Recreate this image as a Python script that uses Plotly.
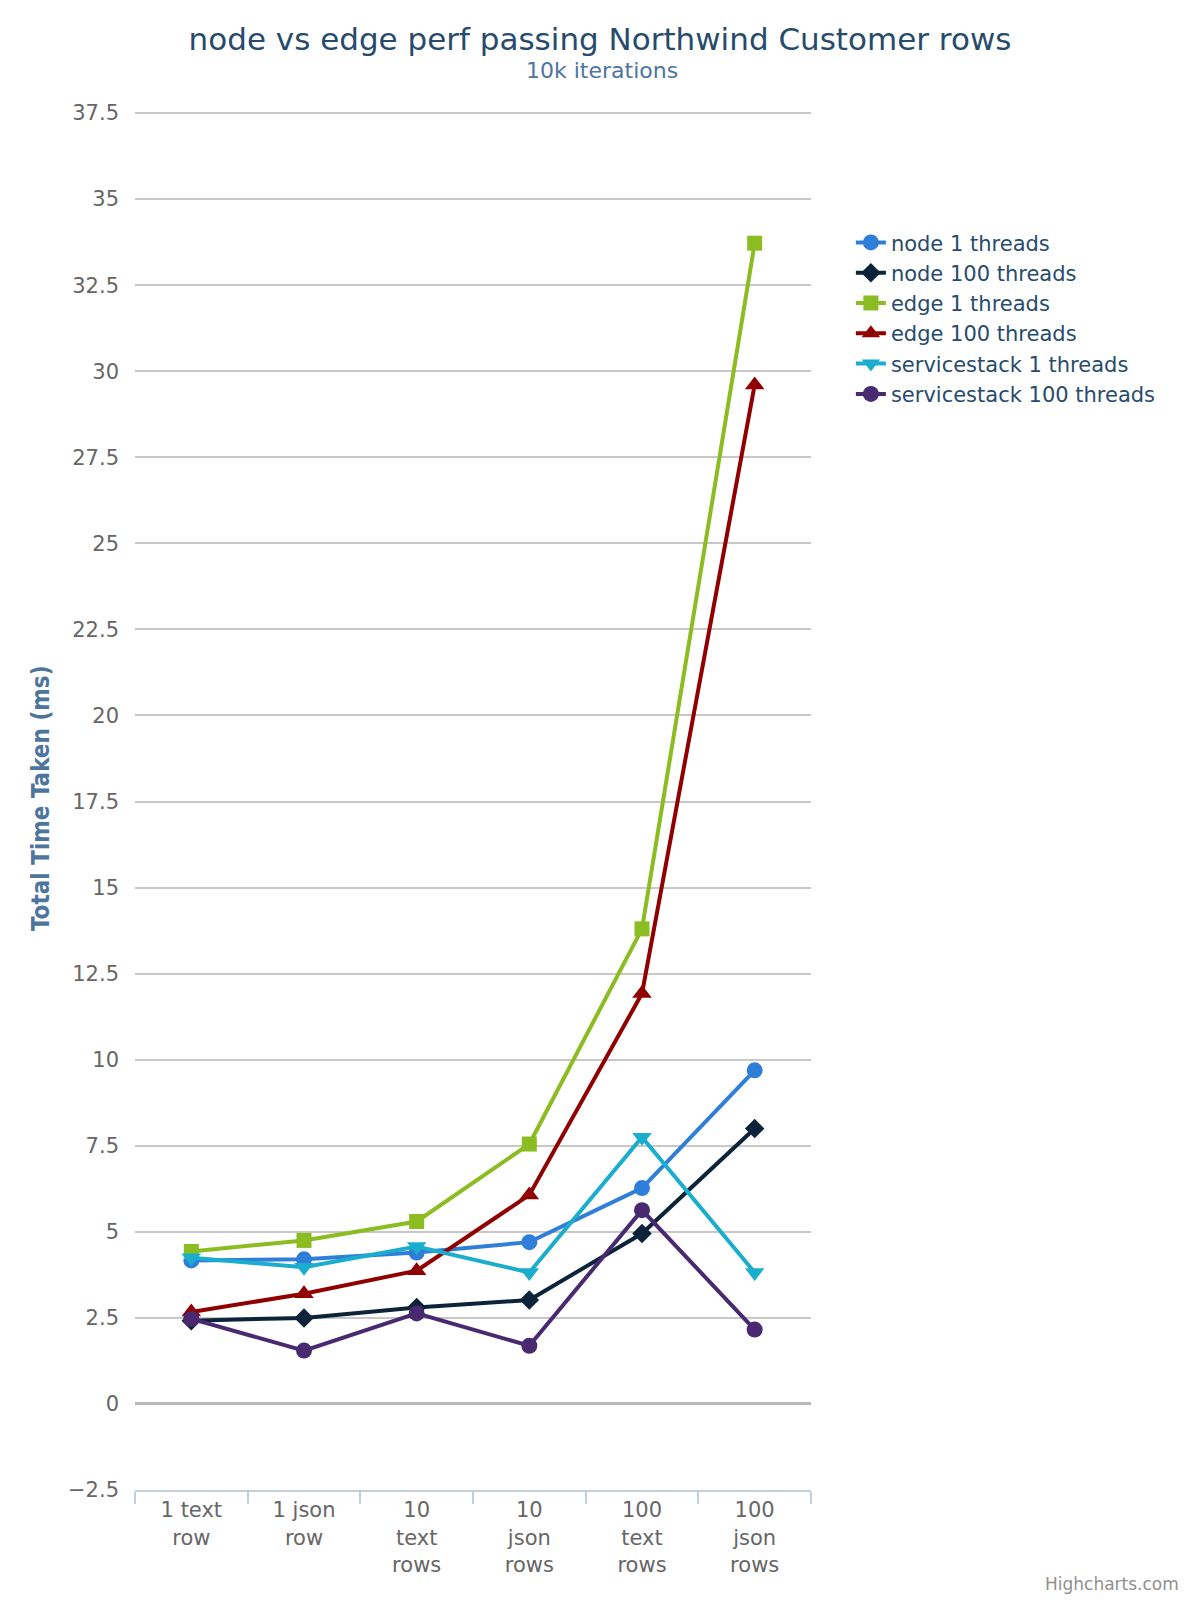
import plotly.graph_objects as go

categories = ["1 text<br>row", "1 json<br>row", "10<br>text<br>rows", "10<br>json<br>rows", "100<br>text<br>rows", "100<br>json<br>rows"]

node_1 = [4.17, 4.2, 4.4, 4.7, 6.27, 9.69]
node_100 = [2.42, 2.5, 2.8, 3.02, 4.95, 8.0]
edge_1 = [4.43, 4.75, 5.3, 7.55, 13.8, 33.72]
edge_100 = [2.67, 3.2, 3.87, 6.07, 11.92, 29.6]
servicestack_1 = [4.25, 3.97, 4.57, 3.82, 7.75, 3.82]
servicestack_100 = [2.47, 1.55, 2.63, 1.69, 5.63, 2.16]

series_names = ["node 1 threads", "node 100 threads", "edge 1 threads", "edge 100 threads",
                "servicestack 1 threads", "servicestack 100 threads"]
series_values = [node_1, node_100, edge_1, edge_100, servicestack_1, servicestack_100]
colors = ["#2f7ed8", "#0d233a", "#8bbc21", "#910000", "#1aadce", "#492970"]
symbols = ["circle", "diamond", "square", "triangle-up", "triangle-down", "circle"]
sizes = [16, 15, 15, 17, 17, 16]

FONT = "DejaVu Sans"

# figure pixel geometry (page has an 8px body margin)
L, T = 127, 104
PW, PH = 676, 1378

fig = go.Figure()
for name, vals, c, s, sz in zip(series_names, series_values, colors, symbols, sizes):
    fig.add_trace(go.Scatter(
        x=categories, y=vals, name=name, mode="lines+markers",
        line=dict(color=c, width=4),
        marker=dict(color=c, symbol=s, size=sz, line=dict(width=0)),
    ))

fig.update_layout(
    width=1200, height=1600,
    paper_bgcolor="white", plot_bgcolor="white",
    margin=dict(l=L, r=1200 - L - PW, t=T, b=1600 - T - PH),
    font=dict(family=FONT, color="#666666", size=20),
    title=dict(text="node vs edge perf passing Northwind Customer rows",
               x=592 / 1200, xanchor="center", y=1 - 31 / 1600, yanchor="middle",
               font=dict(family=FONT, size=31, color="#274b6d")),
    showlegend=True,
    legend=dict(x=1.059, xanchor="left", y=0.920, yanchor="top",
                font=dict(family=FONT, size=21, color="#274b6d"),
                bgcolor="rgba(0,0,0,0)", tracegroupgap=0, itemwidth=30),
    annotations=[
        dict(text="10k iterations", xref="paper", yref="paper",
             x=(594 - L) / PW, y=(T + PH - 63) / PH,
             xanchor="center", yanchor="middle", showarrow=False,
             font=dict(family=FONT, size=22, color="#4d759e")),
        dict(text="<b>Total Time Taken (ms)</b>", xref="paper", yref="paper",
             x=(33 - L) / PW, y=(T + PH - 790) / PH, textangle=-90,
             xanchor="center", yanchor="middle", showarrow=False,
             font=dict(family="DejaVu Sans Condensed", size=24, color="#4d759e")),
        dict(text="Highcharts.com", xref="paper", yref="paper",
             x=(1173 - L) / PW, y=(T + PH - 1576) / PH,
             xanchor="right", yanchor="middle", showarrow=False,
             font=dict(family=FONT, size=17, color="#909090")),
    ],
)

fig.update_xaxes(
    type="category", showgrid=False, zeroline=False,
    showline=True, linecolor="#C0D0E0", linewidth=2,
    ticks="outside", tickson="boundaries", ticklen=12, tickwidth=2, tickcolor="#C0D0E0",
    tickfont=dict(family=FONT, size=21, color="#666666"),
    range=[-0.5, 5.5],
)
fig.update_yaxes(
    range=[-2.5, 37.53], tickmode="array",
    tickvals=[-2.5, 0, 2.5, 5, 7.5, 10, 12.5, 15, 17.5, 20, 22.5, 25, 27.5, 30, 32.5, 35, 37.5],
    ticktext=["−2.5", "0", "2.5", "5", "7.5", "10", "12.5", "15", "17.5", "20", "22.5", "25",
              "27.5", "30", "32.5", "35", "37.5"],
    showgrid=True, gridcolor="#C8C8C8", gridwidth=2,
    zeroline=True, zerolinecolor="#BBBBBB", zerolinewidth=3,
    showline=False, ticks="", ticklabelstandoff=15,
    tickfont=dict(family=FONT, size=21, color="#666666"),
)

fig.write_html("out.html")
